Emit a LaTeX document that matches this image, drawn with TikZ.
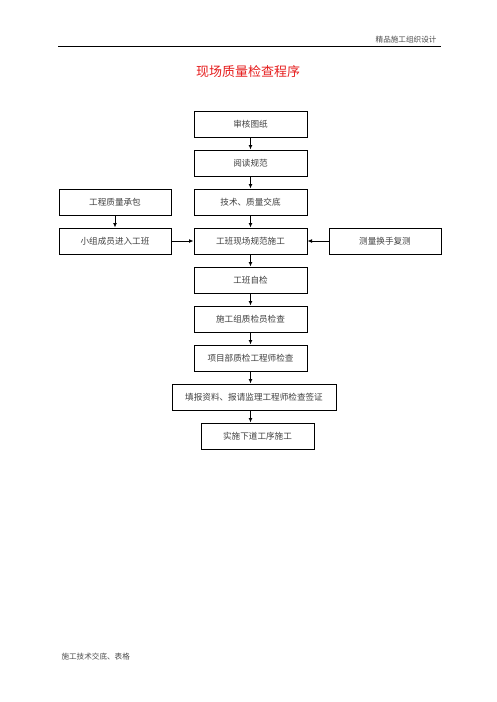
\documentclass[tikz,border=0pt]{standalone}
\usepackage{fontspec}
\newfontfamily\cjk{Noto Sans CJK SC}
\usetikzlibrary{arrows.meta}
\definecolor{titlered}{RGB}{230,30,30}
\begin{document}
\begin{tikzpicture}[x=1pt,y=-1pt,
  box/.style={draw,line width=1pt,minimum height=26pt,inner sep=0pt,font=\cjk\fontsize{8.6}{10}\selectfont,text=black!75},
  arr/.style={line width=0.9pt,-{Latex[length=4.5pt,width=4pt]}}]
\useasboundingbox (0,0) rectangle (496,702);
\fill[white] (0,0) rectangle (496,702);
% header
\coordinate (hl) at (58,46);
\coordinate (hr) at (441,46);
\draw[line width=0.9pt] (hl) -- (hr);
\node[anchor=base east,font=\cjk\fontsize{7.6}{9}\selectfont,text=black!70] (hdr) at (440,42) {精品施工组织设计};
% title
\node[font=\cjk\fontsize{13}{15}\selectfont,text=titlered] (title) at (248,72) {现场质量检查程序};
% boxes
\node[box,minimum width=113pt] (b1) at (250.5,124) {审核图纸};
\node[box,minimum width=113pt] (b2) at (250.5,163) {阅读规范};
\node[box,minimum width=113pt] (b3) at (250.5,202) {技术、质量交底};
\node[box,minimum width=112pt] (l1) at (115,202) {工程质量承包};
\node[box,minimum width=112pt] (l2) at (115,241) {小组成员进入工班};
\node[box,minimum width=113pt] (b4) at (250.5,241) {工班现场规范施工};
\node[box,minimum width=112pt] (r1) at (385,241) {测量换手复测};
\node[box,minimum width=113pt] (b5) at (250.5,280) {工班自检};
\node[box,minimum width=113pt] (b6) at (250.5,319) {施工组质检员检查};
\node[box,minimum width=113pt] (b7) at (250.5,358) {项目部质检工程师检查};
\node[box,minimum width=164pt] (b8) at (254,397) {填报资料、报请监理工程师检查签证};
\node[box,minimum width=113pt] (b9) at (257.5,436) {实施下道工序施工};
% arrows
\draw[arr] (b1) -- (b2);
\draw[arr] (b2) -- (b3);
\draw[arr] (b3) -- (b4);
\draw[arr] (l1) -- (l2);
\draw[arr] (l2) -- (b4);
\draw[arr] (r1) -- (b4);
\draw[arr] (b4) -- (b5);
\draw[arr] (b5) -- (b6);
\draw[arr] (b6) -- (b7);
\draw[arr] (b7.south) -- (b7.south |- b8.north);
\draw[arr] (b8.south -| b7.south) -- (b7.south |- b9.north);
% footer
\node[anchor=base west,font=\cjk\fontsize{7.6}{9}\selectfont,text=black!70] (ftr) at (58,659) {施工技术交底、表格};
\end{tikzpicture}
\end{document}
